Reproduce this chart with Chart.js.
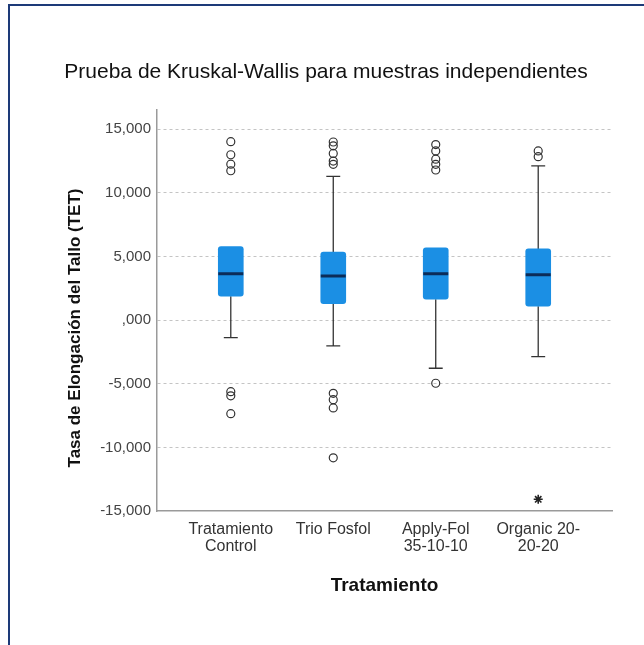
<!DOCTYPE html>
<html>
<head>
<meta charset="utf-8">
<script src="https://cdn.jsdelivr.net/npm/chart.js@4/dist/chart.umd.min.js"></script>
<style>
  html, body { margin: 0; padding: 0; background: #fff; }
  #wrap { position: relative; width: 644px; height: 645px; overflow: hidden; }
  #wrap canvas { position: absolute; left: 0; top: 0; }
  #frame {
    position: absolute; left: 8px; top: 4px; width: 700px; height: 700px;
    border-left: 2px solid #1d3a78; border-top: 2px solid #1d3a78;
    box-sizing: border-box; pointer-events: none;
  }
</style>
</head>
<body>
<div id="wrap">
  <canvas id="chart" width="644" height="645"></canvas>
  <div id="frame"></div>
</div>
<script>
// Treatment groups (multi-line tick labels)
const categories = [
  ['Tratamiento', 'Control'],
  'Trio Fosfol',
  ['Apply-Fol', '35-10-10'],
  ['Organic 20-', '20-20']
];

// Box statistics per group (TET)
const q1          = [1880, 1300, 1640, 1100];
const medians     = [3650, 3470, 3650, 3570];
const q3          = [5790, 5350, 5690, 5600];
const whiskerLow  = [-1380, -2030, -3780, -2870];
const whiskerHigh = [5790, 11300, 5690, 12130];

// Outliers (circles) and extreme values (stars) per group
const outliers = [
  [14030, 13000, 12260, 11740, -5620, -5950, -7350],
  [14000, 13700, 13100, 12500, 12250, -5750, -6250, -6900, -10820],
  [13800, 13300, 12650, 12250, 11800, -4960],
  [13300, 12850]
];
const extremes = [[], [], [], [-14080]];

// Y axis tick values
const yTicks = [15000, 10000, 5000, 0, -5000, -10000, -15000];

const title  = 'Prueba de Kruskal-Wallis para muestras independientes';
const yTitle = 'Tasa de Elongación del Tallo (TET)';
const xTitle = 'Tratamiento';

const FONT = "'Liberation Sans', Arial, sans-serif";
const CAP_HALF = 0.068;     // half width of whisker caps (x units)
const MED_HALF = 0.122;     // half width of median bar (x units)

// Build datasets from the arrays above
const boxData = categories.map((c, i) => ({ x: i, y: [q1[i], q3[i]] }));

const whiskerData = [];
categories.forEach((c, i) => {
  if (whiskerHigh[i] > q3[i]) {
    whiskerData.push({ x: i, y: q3[i] }, { x: i, y: whiskerHigh[i] }, { x: i, y: null });
    whiskerData.push({ x: i - CAP_HALF, y: whiskerHigh[i] }, { x: i + CAP_HALF, y: whiskerHigh[i] }, { x: i, y: null });
  }
  if (whiskerLow[i] < q1[i]) {
    whiskerData.push({ x: i, y: q1[i] }, { x: i, y: whiskerLow[i] }, { x: i, y: null });
    whiskerData.push({ x: i - CAP_HALF, y: whiskerLow[i] }, { x: i + CAP_HALF, y: whiskerLow[i] }, { x: i, y: null });
  }
});

const medianData = [];
categories.forEach((c, i) => {
  medianData.push({ x: i - MED_HALF, y: medians[i] }, { x: i + MED_HALF, y: medians[i] }, { x: i, y: null });
});

const outlierData = [];
outliers.forEach((vals, i) => vals.forEach(v => outlierData.push({ x: i, y: v })));
const extremeData = [];
extremes.forEach((vals, i) => vals.forEach(v => extremeData.push({ x: i, y: v })));

// Rotated y-axis title
const yTitlePlugin = {
  id: 'yTitle',
  afterDraw(chart) {
    const ctx = chart.ctx;
    ctx.save();
    ctx.translate(75, 328);
    ctx.rotate(-Math.PI / 2);
    ctx.font = 'bold 17px ' + FONT;
    ctx.fillStyle = '#111';
    ctx.textAlign = 'center';
    ctx.textBaseline = 'middle';
    ctx.fillText(yTitle, 0, 0);
    ctx.restore();
  }
};

new Chart(document.getElementById('chart'), {
  type: 'bar',
  data: {
    datasets: [
      {
        type: 'line', label: 'whiskers', data: whiskerData, order: 4,
        borderColor: '#333', borderWidth: 1.3, pointRadius: 0, spanGaps: false,
        borderCapStyle: 'butt'
      },
      {
        type: 'bar', label: 'boxes', data: boxData, order: 3,
        backgroundColor: '#1b8fe4', borderWidth: 0, borderRadius: 3,
        borderSkipped: false, barThickness: 25
      },
      {
        type: 'line', label: 'medians', data: medianData, order: 2,
        borderColor: '#0c2c58', borderWidth: 3, pointRadius: 0, spanGaps: false,
        borderCapStyle: 'butt'
      },
      {
        type: 'scatter', label: 'outliers', data: outlierData, order: 1,
        pointStyle: 'circle', pointRadius: 4, borderColor: '#333',
        borderWidth: 1.2, backgroundColor: 'rgba(255,255,255,0)'
      },
      {
        type: 'scatter', label: 'extremes', data: extremeData, order: 0,
        pointStyle: 'star', pointRadius: 4.5, borderColor: '#222',
        borderWidth: 1.6, backgroundColor: '#222'
      }
    ]
  },
  options: {
    responsive: false,
    animation: false,
    events: [],
    layout: { padding: { left: 8, right: 0, top: 0, bottom: 0 } },
    plugins: {
      legend: { display: false },
      tooltip: { enabled: false },
      title: {
        display: true, text: title, color: '#111',
        font: { family: FONT, size: 21, weight: 'normal', lineHeight: 1.2 },
        padding: { top: 60, bottom: 25 }
      }
    },
    scales: {
      x: {
        type: 'linear', min: -0.72, max: 3.72, offset: false,
        afterBuildTicks: s => { s.ticks = categories.map((c, i) => ({ value: i })); },
        afterFit: s => { s.height = 134; },
        ticks: {
          autoSkip: false, maxRotation: 0, minRotation: 0, padding: 10, color: '#333',
          font: { family: FONT, size: 16, lineHeight: 1.05 },
          callback: v => categories[v]
        },
        grid: { display: false, drawTicks: false, offset: false },
        border: { display: true, color: '#9a9a9a', width: 1.5 },
        title: {
          display: true, text: xTitle, color: '#111',
          font: { family: FONT, size: 19, weight: 'bold', lineHeight: 1.2 },
          padding: { top: 0, bottom: 48 }
        }
      },
      y: {
        type: 'linear', min: -15000, max: 16500,
        afterBuildTicks: s => { s.ticks = yTicks.map(v => ({ value: v })); },
        afterFit: s => { s.width = 149; },
        ticks: {
          padding: 6, color: '#444',
          font: { family: FONT, size: 15 },
          callback: v => (v === 0 ? ',000' : v.toLocaleString('en-US'))
        },
        grid: {
          drawTicks: false,
          color: c => (c.tick && c.tick.value === -15000 ? 'rgba(0,0,0,0)' : '#c4c4c4'),
          lineWidth: 1
        },
        border: { display: true, color: '#9a9a9a', width: 1.5, dash: [3, 3] }
      },
      yR: {
        type: 'linear', position: 'right', display: true,
        afterFit: s => { s.width = 32; },
        ticks: { display: false },
        grid: { display: false, drawTicks: false },
        border: { display: false }
      }
    }
  },
  plugins: [yTitlePlugin]
});
</script>
</body>
</html>
